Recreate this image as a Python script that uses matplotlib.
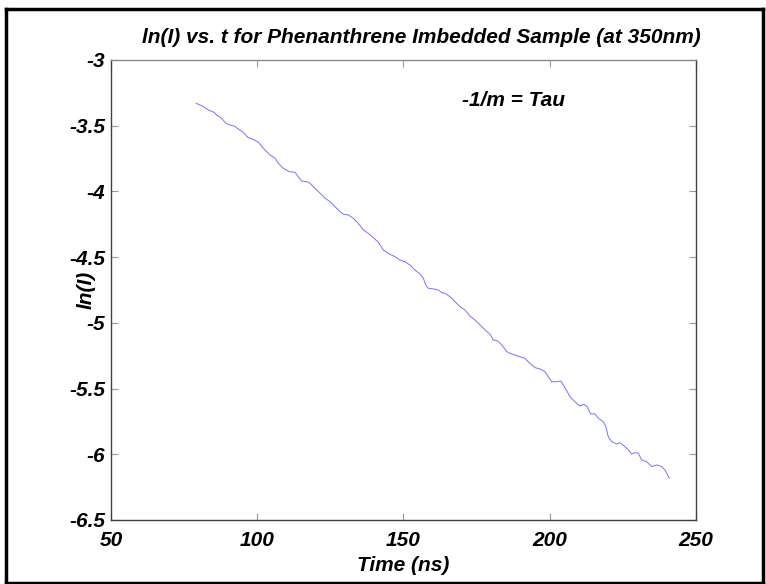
import matplotlib
matplotlib.use("Agg")
import matplotlib.pyplot as plt
from matplotlib.lines import Line2D

plt.rcParams["font.family"] = ["Liberation Sans", "DejaVu Sans"]

# decay trace (time in ns, ln of intensity)
TIME_NS = [
    79.1, 81.6, 83.3, 85.2, 86.1, 87.8, 89.3, 90.7, 92.1, 93.5,
    95.2, 96.9, 98.6, 100.4, 102.1, 104.4, 106.1, 107.2, 108.9, 111.0,
    112.9, 114.0, 115.2, 116.9, 118.0, 119.7, 121.5, 123.2, 124.9, 126.6,
    128.3, 129.4, 131.1, 132.8, 134.5, 136.3, 138.0, 139.7, 141.4, 143.1,
    144.8, 147.1, 148.8, 150.5, 152.2, 153.9, 155.6, 156.8, 157.6, 158.5,
    160.2, 161.9, 163.1, 164.2, 165.9, 167.6, 169.3, 171.0, 172.7, 174.4,
    176.2, 177.9, 179.6, 180.7, 182.2, 183.6, 185.3, 186.4, 188.1, 189.8,
    191.5, 193.2, 195.0, 196.7, 198.4, 199.5, 200.7, 202.4, 203.8, 205.0,
    206.3, 206.9, 208.6, 210.3, 211.7, 212.8, 214.0, 215.5, 216.6, 218.3,
    219.2, 220.0, 221.2, 222.9, 224.0, 225.7, 226.9, 228.0, 229.1, 230.3,
    231.4, 233.1, 234.9, 236.6, 238.3, 239.4, 240.9,
]
LN_I = [
    -3.329, -3.355, -3.380, -3.398, -3.418, -3.444, -3.482, -3.495, -3.502, -3.525,
    -3.550, -3.591, -3.603, -3.626, -3.672, -3.723, -3.748, -3.786, -3.824, -3.850,
    -3.854, -3.888, -3.921, -3.926, -3.938, -3.976, -4.014, -4.052, -4.078, -4.116,
    -4.154, -4.174, -4.179, -4.204, -4.242, -4.293, -4.319, -4.352, -4.387, -4.446,
    -4.471, -4.497, -4.522, -4.535, -4.560, -4.598, -4.628, -4.661, -4.712, -4.737,
    -4.742, -4.750, -4.771, -4.775, -4.801, -4.839, -4.877, -4.902, -4.948, -4.978,
    -5.016, -5.054, -5.087, -5.130, -5.138, -5.168, -5.219, -5.232, -5.245, -5.257,
    -5.270, -5.308, -5.341, -5.351, -5.372, -5.410, -5.448, -5.448, -5.442, -5.486,
    -5.536, -5.562, -5.600, -5.633, -5.620, -5.638, -5.693, -5.693, -5.726, -5.752,
    -5.790, -5.866, -5.904, -5.922, -5.912, -5.942, -5.967, -5.998, -5.988, -5.992,
    -6.043, -6.056, -6.094, -6.081, -6.094, -6.120, -6.183,
]
X_TICKS = [50, 100, 150, 200, 250]
Y_TICKS = [-6.5, -6, -5.5, -5, -4.5, -4, -3.5, -3]
Y_TICK_LABELS = ["-6.5", "-6", "-5.5", "-5", "-4.5", "-4", "-3.5", "-3"]

font = dict(fontsize=15, fontweight="bold", fontstyle="italic")

fig = plt.figure(figsize=(7.66, 5.84), dpi=100)
ax = fig.add_axes([0.1449, 0.1096, 0.7637, 0.7877])

ax.plot(TIME_NS, LN_I, color=(0.45, 0.45, 1.0), linewidth=0.7)

ax.set_xlim(50, 250)
ax.set_ylim(-6.5, -3)
ax.set_xticks(X_TICKS)
ax.set_xticklabels([str(v) for v in X_TICKS], **font)
ax.set_yticks(Y_TICKS)
ax.set_yticklabels(Y_TICK_LABELS, **font)
ax.tick_params(direction="in", length=5, width=0.8, color="#9a9a9a",
               top=True, right=True)
ax.tick_params(axis="x", pad=8)
ax.tick_params(axis="y", pad=4)
for name, spine in ax.spines.items():
    spine.set_linewidth(1.0)
    spine.set_color("#404040" if name != "top" else "#8a8a8a")

ax.set_xlabel("Time (ns)", **font)
ax.xaxis.set_label_coords(0.5, -0.078)
ax.set_ylabel("ln(I)", **font)
ax.yaxis.set_label_coords(-0.027, 0.5)
ax.set_title("ln(I) vs. t for Phenanthrene Imbedded Sample (at 350nm)",
             x=0.53, pad=12, **font)
ax.text(170, -3.31, "-1/m = Tau", ha="left", va="center", **font)

# black frame around the whole figure
W, H = 766, 584
frame = dict(color="black", linewidth=2.5, transform=fig.transFigure)
fig.add_artist(Line2D([6 / W, 6 / W], [0, 1 - 9 / H], **frame))
fig.add_artist(Line2D([6 / W, 763 / W], [1 - 9 / H, 1 - 9 / H], **frame))
fig.add_artist(Line2D([763 / W, 763 / W], [0, 1 - 9 / H], **frame))
fig.add_artist(Line2D([6 / W, 763 / W], [1 / H, 1 / H], **frame))

fig.savefig("out.png", dpi=100)
